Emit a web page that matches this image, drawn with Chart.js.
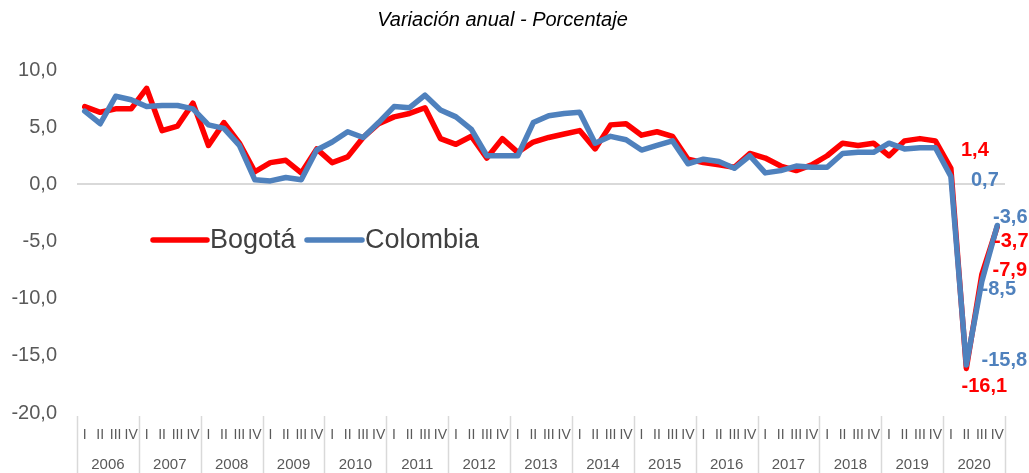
<!DOCTYPE html>
<html>
<head>
<meta charset="utf-8">
<script src="https://cdn.jsdelivr.net/npm/chart.js@4.4.1/dist/chart.umd.min.js"></script>
<style>
  html, body { margin: 0; padding: 0; background: #fff; }
  #wrap { width: 1029px; height: 473px; }
</style>
</head>
<body>
<div id="wrap"><canvas id="chart" width="1029" height="473"></canvas></div>
<script>
const years = ['2006', '2007', '2008', '2009', '2010', '2011', '2012', '2013', '2014', '2015', '2016', '2017', '2018', '2019', '2020'];
const quarters = ['I', 'II', 'III', 'IV'];

const bogota = [
  6.8, 6.3, 6.6, 6.6,
  8.4, 4.7, 5.1, 7.1,
  3.4, 5.4, 3.6, 1.1,
  1.9, 2.1, 1.0, 3.1,
  1.9, 2.4, 4.1, 5.3,
  5.9, 6.2, 6.7, 4.0,
  3.5, 4.2, 2.3, 4.0,
  2.8, 3.7, 4.1, 4.4,
  4.7, 3.1, 5.2, 5.3,
  4.3, 4.6, 4.2, 2.2,
  1.9, 1.7, 1.5, 2.7,
  2.3, 1.6, 1.2, 1.7,
  2.5, 3.6, 3.4, 3.6,
  2.5, 3.8, 4.0, 3.8,
  1.4, -16.1, -7.9, -3.7
];

const colombia = [
  6.4, 5.3, 7.7, 7.4,
  6.8, 6.9, 6.9, 6.6,
  5.2, 4.9, 3.4, 0.4,
  0.3, 0.6, 0.4, 3.0,
  3.7, 4.6, 4.1, 5.4,
  6.8, 6.7, 7.8, 6.5,
  5.9, 4.8, 2.5, 2.5,
  2.5, 5.4, 6.0, 6.2,
  6.3, 3.6, 4.2, 3.9,
  3.0, 3.4, 3.8, 1.8,
  2.2, 2.0, 1.4, 2.5,
  1.0, 1.2, 1.6, 1.5,
  1.5, 2.7, 2.8, 2.8,
  3.6, 3.1, 3.2, 3.2,
  0.7, -15.8, -8.5, -3.6
];

const labels = years.flatMap(() => quarters);
const RED = '#ff0000';
const BLUE = '#4f81bd';
const FONT = '"Liberation Sans", Arial, sans-serif';

const fmt = (v) => v.toFixed(1).replace('.', ',');

// etiquetas de los ultimos cuatro trimestres (dx, dy respecto al punto)
const endLabels = [
  { ds: 0, color: RED, offsets: [[24, -18], [18, 18], [28, -4], [14, 15]] },
  { ds: 1, color: BLUE, offsets: [[34, 4], [38, -4], [17, 8], [13, -8]] }
];

const extras = {
  id: 'extras',
  afterDraw(chart) {
    const { ctx, chartArea } = chart;
    const h = chart.height;
    ctx.save();

    // separadores y años
    ctx.strokeStyle = '#d9d9d9';
    ctx.lineWidth = 1.5;
    const step = (chartArea.right - chartArea.left) / years.length;
    for (let i = 0; i <= years.length; i++) {
      const px = Math.round(chartArea.left + step * i) + 0.5;
      ctx.beginPath();
      ctx.moveTo(px, chartArea.bottom + 3);
      ctx.lineTo(px, h);
      ctx.stroke();
    }
    ctx.fillStyle = '#595959';
    ctx.font = `15px ${FONT}`;
    ctx.textAlign = 'center';
    ctx.textBaseline = 'middle';
    years.forEach((y, i) => ctx.fillText(y, chartArea.left + step * (i + 0.5), chartArea.bottom + 52));

    // leyenda
    const ly = chartArea.top + 170;
    const lx = chartArea.left + 76;
    ctx.lineWidth = 5.5;
    ctx.lineCap = 'round';
    ctx.strokeStyle = RED;
    ctx.beginPath(); ctx.moveTo(lx, ly); ctx.lineTo(lx + 54, ly); ctx.stroke();
    ctx.strokeStyle = BLUE;
    ctx.beginPath(); ctx.moveTo(lx + 154, ly); ctx.lineTo(lx + 209, ly); ctx.stroke();
    ctx.fillStyle = '#404040';
    ctx.font = `27px ${FONT}`;
    ctx.textAlign = 'left';
    ctx.fillText('Bogotá', lx + 57, ly + 1);
    ctx.fillText('Colombia', lx + 212, ly + 1);

    // etiquetas de datos
    ctx.font = `bold 20px ${FONT}`;
    ctx.textAlign = 'center';
    endLabels.forEach((set) => {
      const meta = chart.getDatasetMeta(set.ds);
      const data = chart.data.datasets[set.ds].data;
      const n = data.length;
      ctx.fillStyle = set.color;
      set.offsets.forEach((off, k) => {
        const idx = n - 4 + k;
        const pt = meta.data[idx];
        ctx.fillText(fmt(data[idx]), pt.x + off[0], pt.y + off[1]);
      });
    });
    ctx.restore();
  }
};

new Chart(document.getElementById('chart'), {
  type: 'line',
  data: {
    labels,
    datasets: [
      { label: 'Bogotá', data: bogota, borderColor: RED, backgroundColor: RED, borderWidth: 5.5, order: 1 },
      { label: 'Colombia', data: colombia, borderColor: BLUE, backgroundColor: BLUE, borderWidth: 5.5, order: 0 }
    ]
  },
  options: {
    responsive: false,
    animation: false,
    layout: { padding: { top: 0, right: 24, bottom: 0, left: 0 } },
    elements: {
      point: { radius: 0, hoverRadius: 0 },
      line: { tension: 0, borderJoinStyle: 'round', borderCapStyle: 'round' }
    },
    plugins: {
      legend: { display: false },
      tooltip: { enabled: false },
      title: {
        display: true,
        text: 'Variación anual - Porcentaje',
        color: '#000',
        font: { family: FONT, size: 20, style: 'italic', weight: 'normal' },
        padding: { top: 8, bottom: 38 }
      }
    },
    scales: {
      x: {
        offset: true,
        grid: { display: false, drawTicks: false },
        border: { display: false },
        ticks: {
          autoSkip: false, maxRotation: 0, minRotation: 0, padding: 14,
          color: '#595959', font: { family: FONT, size: 14 }
        },
        afterFit(scale) { scale.height = 60; }
      },
      y: {
        min: -20, max: 10,
        border: { display: false },
        grid: {
          drawTicks: false,
          lineWidth: 2,
          color: (c) => (c.tick && c.tick.value === 0 ? '#d9d9d9' : 'rgba(0,0,0,0)')
        },
        ticks: {
          stepSize: 5, padding: 20,
          color: '#595959', font: { family: FONT, size: 20 },
          callback: (v) => fmt(v)
        },
        afterFit(scale) { scale.width = 77; }
      }
    }
  },
  plugins: [extras]
});
</script>
</body>
</html>
